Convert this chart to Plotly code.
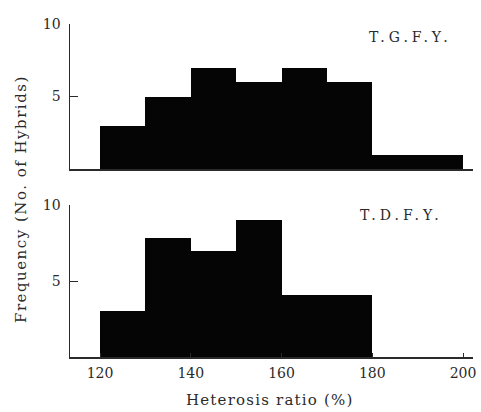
import plotly.graph_objects as go

# Data
bin_edges = [120, 130, 140, 150, 160, 170, 180, 190, 200]
tgfy_freq = [3, 5, 7, 6, 7, 6, 1, 1]
tdfy_freq = [3, 7.8, 7.0, 9.0, 4.1, 4.1, 0, 0]
x_ticks = [120, 140, 160, 180, 200]
y_ticks = [5, 10]
panel_labels = ["T.G.F.Y.", "T.D.F.Y."]
x_title = "Heterosis ratio (%)"
y_title = "Frequency (No. of Hybrids)"

centers = [(a + b) / 2 for a, b in zip(bin_edges[:-1], bin_edges[1:])]
widths = [b - a for a, b in zip(bin_edges[:-1], bin_edges[1:])]

W, H = 481, 412
FONT = "DejaVu Serif"
INK = "#2a2a2a"

def px_x(p):
    return p / W

def px_y(p):
    return (H - p) / H

def spaced(t, s):
    return '<span style="letter-spacing:%spx">%s</span>' % (s, t)

fig = go.Figure()
fig.add_trace(go.Bar(x=centers, y=tgfy_freq, width=widths, marker=dict(color="#050505", line=dict(width=0)),
                     xaxis="x", yaxis="y", showlegend=False, hoverinfo="skip"))
fig.add_trace(go.Bar(x=centers, y=tdfy_freq, width=widths, marker=dict(color="#050505", line=dict(width=0)),
                     xaxis="x2", yaxis="y2", showlegend=False, hoverinfo="skip"))

xrange = [120 - 30 / 4.5375, 200 + 10 / 4.5375]
xdom = [px_x(70), px_x(473)]

common_x = dict(range=xrange, domain=xdom, showgrid=False, zeroline=False, showline=True,
                linecolor=INK, linewidth=1.5, tickvals=x_ticks, ticks="inside", ticklen=4,
                tickcolor=INK, tickfont=dict(family=FONT, size=14, color=INK), automargin=False,
                ticklabelstandoff=3)
common_y = dict(range=[0, 10], showgrid=False, zeroline=False, showline=True, linecolor=INK,
                linewidth=1.5, tickvals=y_ticks, ticks="inside", ticklen=8, tickcolor=INK,
                tickfont=dict(family=FONT, size=14, color=INK), automargin=False,
                ticklabelstandoff=5)

fig.update_layout(
    width=W, height=H,
    margin=dict(l=0, r=0, t=0, b=0),
    paper_bgcolor="white", plot_bgcolor="white",
    bargap=0,
    xaxis=dict(common_x, anchor="y", showticklabels=False, ticks=""),
    yaxis=dict(common_y, anchor="x", domain=[px_y(169), px_y(24)]),
    xaxis2=dict(common_x, anchor="y2"),
    yaxis2=dict(common_y, anchor="x2", domain=[px_y(357), px_y(205)]),
)

ann = dict(xref="paper", yref="paper", showarrow=False, xanchor="center", yanchor="middle")
fig.add_annotation(text=spaced(panel_labels[0], 4), x=px_x(410), y=px_y(37),
                   font=dict(family=FONT, size=14, color=INK), **ann)
fig.add_annotation(text=spaced(panel_labels[1], 4), x=px_x(401), y=px_y(215),
                   font=dict(family=FONT, size=14, color=INK), **ann)
fig.add_annotation(text=spaced(y_title, 1.5), x=px_x(21), y=px_y(199),
                   textangle=-90, font=dict(family=FONT, size=15, color=INK), **ann)
fig.add_annotation(text=spaced(x_title, 1.2), x=px_x(270), y=px_y(400),
                   font=dict(family=FONT, size=15, color=INK), **ann)

fig.write_html("out.html", config={"displayModeBar": False, "staticPlot": True})

with open("out.html", "r", encoding="utf-8") as f:
    html = f.read()
html = html.replace("<body>", '<body style="margin:0;padding:0;overflow:hidden">', 1)
with open("out.html", "w", encoding="utf-8") as f:
    f.write(html)
